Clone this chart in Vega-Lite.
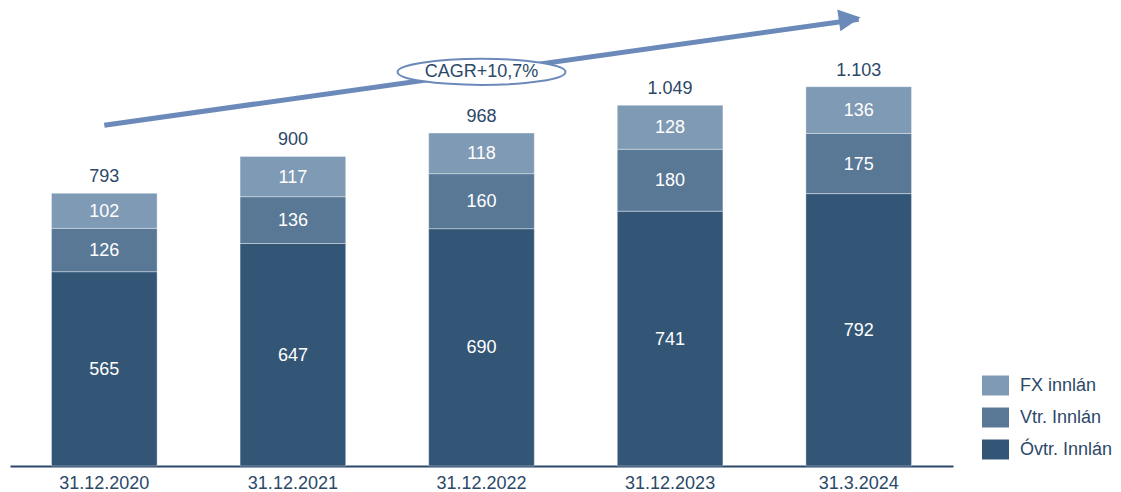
{
  "$schema": "https://vega.github.io/schema/vega-lite/v6.json",
  "autosize": "none",
  "width": 943,
  "height": 466,
  "padding": {"left": 10, "top": 0, "right": 168, "bottom": 26},
  "background": "white",
  "config": {
    "view": {"stroke": null},
    "font": "Liberation Sans",
    "text": {"font": "Liberation Sans"}
  },
  "datasets": {
    "deposits": [
      {"date": "31.12.2020", "series": "Óvtr. Innlán", "k": 1, "value": 565},
      {"date": "31.12.2020", "series": "Vtr. Innlán", "k": 2, "value": 126},
      {"date": "31.12.2020", "series": "FX innlán", "k": 3, "value": 102},
      {"date": "31.12.2021", "series": "Óvtr. Innlán", "k": 1, "value": 647},
      {"date": "31.12.2021", "series": "Vtr. Innlán", "k": 2, "value": 136},
      {"date": "31.12.2021", "series": "FX innlán", "k": 3, "value": 117},
      {"date": "31.12.2022", "series": "Óvtr. Innlán", "k": 1, "value": 690},
      {"date": "31.12.2022", "series": "Vtr. Innlán", "k": 2, "value": 160},
      {"date": "31.12.2022", "series": "FX innlán", "k": 3, "value": 118},
      {"date": "31.12.2023", "series": "Óvtr. Innlán", "k": 1, "value": 741},
      {"date": "31.12.2023", "series": "Vtr. Innlán", "k": 2, "value": 180},
      {"date": "31.12.2023", "series": "FX innlán", "k": 3, "value": 128},
      {"date": "31.3.2024", "series": "Óvtr. Innlán", "k": 1, "value": 792},
      {"date": "31.3.2024", "series": "Vtr. Innlán", "k": 2, "value": 175},
      {"date": "31.3.2024", "series": "FX innlán", "k": 3, "value": 136}
    ],
    "arrow": [
      {"date": "31.12.2020", "y": 991, "date2": "31.3.2024", "y2": 1299}
    ],
    "arrowhead": [
      {"date": "31.3.2024", "y": 1300}
    ],
    "cagr": [
      {"date": "31.12.2022", "y": 1146, "label": "CAGR+10,7%"}
    ]
  },
  "layer": [
    {
      "data": {"name": "deposits"},
      "transform": [
        {"stack": "value", "groupby": ["date"], "sort": [{"field": "k"}], "as": ["y0", "y1"]}
      ],
      "mark": {"type": "bar", "stroke": "white", "strokeWidth": 0.8, "strokeOpacity": 0.45},
      "encoding": {
        "x": {"field": "date", "type": "nominal", "sort": null,
              "scale": {"domain": ["31.12.2020", "31.12.2021", "31.12.2022", "31.12.2023", "31.3.2024"], "paddingInner": 0.44, "paddingOuter": 0.22},
              "axis": {"title": null, "labelAngle": 0, "labelFontSize": 18, "labelColor": "#2b4869", "labelFont": "Liberation Sans",
                       "ticks": false, "labelPadding": 8, "domainColor": "#2b4869", "domainWidth": 2, "grid": false}},
        "y": {"field": "y0", "type": "quantitative", "scale": {"domain": [0, 1355], "nice": false}, "axis": null},
        "y2": {"field": "y1"},
        "color": {"field": "series", "type": "nominal",
                  "scale": {"domain": ["FX innlán", "Vtr. Innlán", "Óvtr. Innlán"], "range": ["#7f9ab4", "#587896", "#335677"]},
                  "legend": {"title": null, "orient": "none", "legendX": 972, "legendY": 372,
                             "symbolType": "M-1,-0.74H1V0.74H-1Z", "symbolSize": 729, "symbolStrokeWidth": 0,
                             "labelFontSize": 18, "labelColor": "#2b4869", "labelFont": "Liberation Sans",
                             "rowPadding": 8, "labelOffset": 11, "padding": 0}}
      }
    },
    {
      "data": {"name": "deposits"},
      "transform": [
        {"stack": "value", "groupby": ["date"], "sort": [{"field": "k"}], "as": ["y0", "y1"]},
        {"calculate": "(datum.y0 + datum.y1) / 2", "as": "ymid"}
      ],
      "mark": {"type": "text", "color": "white", "fontSize": 18, "baseline": "middle", "dy": 1, "font": "Liberation Sans"},
      "encoding": {
        "x": {"field": "date", "type": "nominal", "sort": null},
        "y": {"field": "ymid", "type": "quantitative"},
        "text": {"field": "value", "type": "quantitative"}
      }
    },
    {
      "data": {"name": "deposits"},
      "transform": [
        {"aggregate": [{"op": "sum", "field": "value", "as": "total"}], "groupby": ["date"]},
        {"calculate": "replace(format(datum.total, ','), ',', '.')", "as": "lab"}
      ],
      "mark": {"type": "text", "color": "#2b4869", "fontSize": 18, "baseline": "bottom", "dy": -7, "font": "Liberation Sans"},
      "encoding": {
        "x": {"field": "date", "type": "nominal", "sort": null},
        "y": {"field": "total", "type": "quantitative"},
        "text": {"field": "lab", "type": "nominal"}
      }
    },
    {
      "data": {"name": "arrow"},
      "mark": {"type": "rule", "color": "#6b8aba", "strokeWidth": 5},
      "encoding": {
        "x": {"field": "date", "type": "nominal", "sort": null},
        "y": {"field": "y", "type": "quantitative"},
        "x2": {"field": "date2"},
        "y2": {"field": "y2"}
      }
    },
    {
      "data": {"name": "arrowhead"},
      "mark": {"type": "point", "shape": "M-1,-1L1,0L-1,1Z", "size": 484, "filled": true, "color": "#6b8aba", "opacity": 1, "angle": -8, "xOffset": -9},
      "encoding": {
        "x": {"field": "date", "type": "nominal", "sort": null},
        "y": {"field": "y", "type": "quantitative"}
      }
    },
    {
      "data": {"name": "cagr"},
      "mark": {"type": "point", "shape": "M-1,0A1,0.155 0 1,1 1,0A1,0.155 0 1,1 -1,0Z", "size": 28224, "filled": true, "fill": "white", "stroke": "#6b8aba", "strokeWidth": 2, "opacity": 1, "fillOpacity": 1},
      "encoding": {
        "x": {"field": "date", "type": "nominal", "sort": null},
        "y": {"field": "y", "type": "quantitative"}
      }
    },
    {
      "data": {"name": "cagr"},
      "mark": {"type": "text", "color": "#2b4869", "fontSize": 18, "baseline": "middle", "font": "Liberation Sans"},
      "encoding": {
        "x": {"field": "date", "type": "nominal", "sort": null},
        "y": {"field": "y", "type": "quantitative"},
        "text": {"field": "label", "type": "nominal"}
      }
    }
  ]
}
